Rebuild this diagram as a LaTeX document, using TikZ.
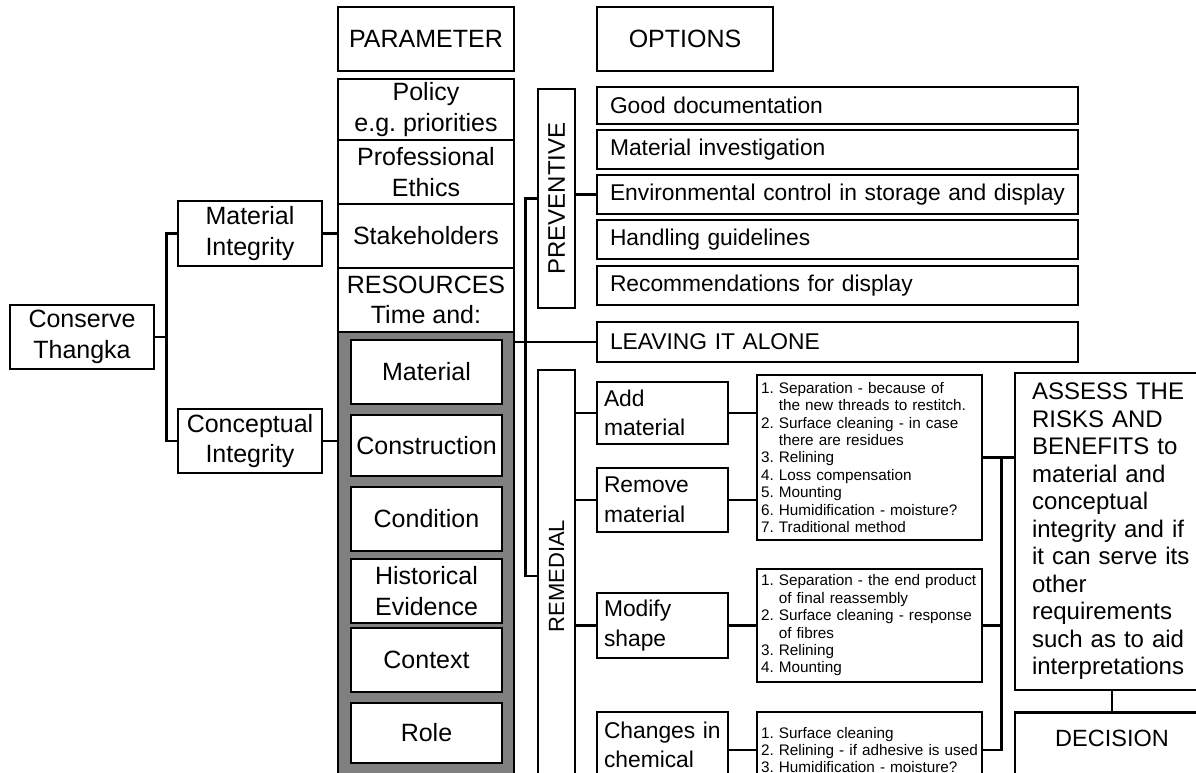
\documentclass[tikz,border=0pt]{standalone}
\usepackage{graphicx}
\usepackage{fontspec}
\setmainfont{Liberation Sans}
\frenchspacing
\hyphenpenalty=10000
\begin{document}
\begin{tikzpicture}[x=1pt, y=-1pt, line width=2.6pt,
      B/.style={draw, fill=white, inner sep=0pt, align=center, font=\fontsize{25}{30.5}\selectfont},
      O/.style={draw, fill=white, inner xsep=13pt, inner ysep=0pt, text width=455pt, align=left, font=\fontsize{22.8}{27}\selectfont},
      R/.style={draw, fill=white, inner xsep=7pt, inner ysep=0pt, text width=117pt, align=left, font=\fontsize{22.8}{29.5}\selectfont},
      L/.style={draw, fill=white, inner xsep=4pt, inner ysep=0pt, text width=217pt, align=left, font=\fontsize{15.3}{17.4}\selectfont},
      V/.style={draw, fill=white, inner sep=0pt, minimum width=37pt}
    ]
    \useasboundingbox (0,0) rectangle (1196,773);
    \clip (0,0) rectangle (1196,773);
    \node[B, minimum width=176pt, minimum height=64pt] (param) at (426,39) {PARAMETER};
    \node[B, minimum width=176pt, minimum height=64pt] (opts) at (685,39) {OPTIONS};
    \node[B, minimum width=144pt, minimum height=64pt] (cons) at (82,337) {Conserve\\Thangka};
    \node[B, minimum width=144pt, minimum height=65pt] (matint) at (250,233.5) {Material\\Integrity};
    \node[B, minimum width=144pt, minimum height=64pt] (conint) at (250,441) {Conceptual\\Integrity};
    \node[B, minimum width=176pt, minimum height=61pt] (policy) at (426,109.5) {Policy\\e.g. priorities};
    \node[B, minimum width=176pt, minimum height=64pt] (ethics) at (426,172) {Professional\\Ethics};
    \node[B, minimum width=176pt, minimum height=64pt] (stake) at (426,236) {Stakeholders};
    \node[B, minimum width=176pt, minimum height=64pt] (resrc) at (426,300) {RESOURCES\\Time and:};
    \node[draw, fill=gray, minimum width=176pt, minimum height=468pt] (grp) at (426,566) {};
    \node[B, minimum width=151pt, minimum height=64pt] (mat) at (426.5,372) {Material};
    \node[B, minimum width=151pt, minimum height=61pt] (constr) at (426.5,445.5) {Construction};
    \node[B, minimum width=151pt, minimum height=64pt] (cond) at (426.5,519) {Condition};
    \node[B, minimum width=151pt, minimum height=64pt] (hist) at (426.5,591) {Historical\\Evidence};
    \node[B, minimum width=151pt, minimum height=64pt] (ctx) at (426.5,660) {Context};
    \node[B, minimum width=151pt, minimum height=60pt] (role) at (426.5,733) {Role};
    \node[V, minimum height=219pt, font=\fontsize{24}{28}\selectfont] (prev) at (556.5,198.5) {\rotatebox{90}{PREVENTIVE}};
    \node[V, minimum height=412pt, font=\fontsize{22}{26}\selectfont] (rem) at (556.5,576) {\rotatebox{90}{REMEDIAL}};
    \node[O, minimum height=37pt] (doc) at (837.5,105.5) {Good documentation};
    \node[O, minimum height=39pt] (inv) at (837.5,149.5) {Material investigation};
    \node[O, minimum height=39pt] (env) at (837.5,194.5) {Environmental control in storage and display};
    \node[O, minimum height=39pt] (hand) at (837.5,239.5) {Handling guidelines};
    \node[O, minimum height=39pt] (rec) at (837.5,285.5) {Recommendations for display};
    \node[O, minimum height=40pt] (leave) at (837.5,342) {LEAVING IT ALONE};
    \node[R, minimum height=62pt] (add) at (662.5,413) {Add\\material};
    \node[R, minimum height=64pt] (remv) at (662.5,500) {Remove\\material};
    \node[R, minimum height=65pt] (mod) at (662.5,625.5) {Modify\\shape};
    \node[R, minimum height=66pt] (chg) at (662.5,745) {Changes in\\chemical};
    \node[L, minimum height=165pt] (lst1) at (869.5,457.5) {1. Separation - because of\\\phantom{1. }the new threads to restitch.\\2. Surface cleaning - in case\\\phantom{1. }there are residues\\3. Relining\\4. Loss compensation\\5. Mounting\\6. Humidification - moisture?\\7. Traditional method};
    \node[L, minimum height=113pt] (lst2) at (869.5,625.5) {1. Separation - the end product\\\phantom{1. }of final reassembly\\2. Surface cleaning - response\\\phantom{1. }of fibres\\3. Relining\\4. Mounting};
    \node[L, minimum height=76pt] (lst3) at (869.5,750) {1. Surface cleaning\\2. Relining - if adhesive is used\\3. Humidification - moisture?};
    \node[draw, fill=white, inner xsep=17pt, inner ysep=0pt, text width=160pt, align=left, minimum height=317pt, font=\fontsize{24}{27.5}\selectfont] (assess) at (1112,531.5) {ASSESS THE\\RISKS AND\\BENEFITS to\\material and\\conceptual\\integrity and if\\it can serve its\\other\\requirements\\such as to aid\\interpretations};
    \node[draw, fill=white, inner sep=0pt, minimum width=194pt, text height=34pt, text depth=50pt, anchor=north, font=\fontsize{23.5}{28}\selectfont] (dec) at (1112,711) {DECISION};
    \draw (cons.east) -- ++(11,0) |- (matint.west);
    \draw (cons.east) -- ++(11,0) |- (conint.west);
    \draw (matint.east) -- (matint.east -| stake.west);
    \draw (conint.east) -- (conint.east -| grp.west);
    \draw (prev.west) -- ++(-11,0) |- (rem.west);
    \draw (leave.west) -- (leave.west -| grp.east);
    \draw (env.west) -- (env.west -| prev.east);
    \foreach \n in {add, remv, mod}
      \draw (\n.west) -- (\n.west -| rem.east);
    \draw (add.east) -- (add.east -| lst1.west);
    \draw (remv.east) -- (remv.east -| lst1.west);
    \draw (mod.east) -- (lst2.west);
    \draw (lst3.west -| chg.east) -- (lst3.west);
    \draw (lst1.east) -- (lst1.east -| assess.west);
    \draw (lst3.east) -- ++(18,0) |- (lst1.east);
    \draw (lst2.east) -- ++(18,0);
    \draw (assess.south) -- (dec.north);
  \end{tikzpicture}
\end{document}
